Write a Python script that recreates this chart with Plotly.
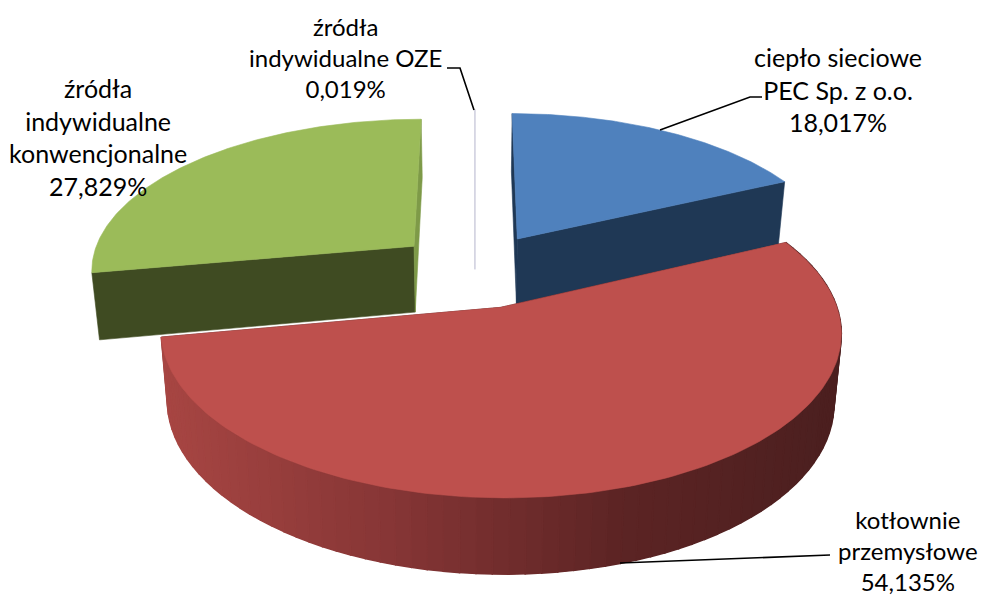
import numpy as np
import plotly.graph_objects as go

# --- data ---
categories = ["ciepło sieciowe PEC Sp. z o.o.", "kotłownie przemysłowe",
              "źródła indywidualne konwencjonalne", "źródła indywidualne OZE"]
values = [18.017, 54.135, 27.829, 0.019]
value_labels = ["18,017%", "54,135%", "27,829%", "0,019%"]
label_lines = [["ciepło sieciowe", "PEC Sp. z o.o."], ["kotłownie", "przemysłowe"],
               ["źródła", "indywidualne", "konwencjonalne"], ["źródła", "indywidualne OZE"]]
top_colors = ["#4F81BD", "#BE504D", "#9BBB59", "#8064A2"]
start_face_colors = ["#1F3855", "#4B1F1F", "#3F4B22", "#B4B4CC"]
end_face_colors = ["#1F3855", "#4B1F1F", "#7E9A48", "#B4B4CC"]
label_pos = [(838, 89), (908, 550), (98, 137), (345, 57)]
label_sizes = [25, 24, 25, 24]
leaders = [[(762, 97), (750, 97), (660, 130)],
           [(830, 555), (620, 563)],
           [],
           [(447, 68), (460, 68), (474, 110)]]

# --- projection of the 3D pie onto the page (pixel-sized axes) ---
CX, CY, AX, BY, D, EXPLODE, BOTTOM_X = 475, 270, 325, 151.5, 7.0, 0.25, 0.98


def top_pt(X, Y):
    s = D / (D + Y)
    return CX + AX * X * s, CY - BY * Y * s


def bot_pt(X, Y):
    x, y = top_pt(X, Y)
    return CX + (x - CX) * BOTTOM_X, y + 67 - 7.5 * Y


fig = go.Figure()


def poly(xs, ys, color, w=0.6):
    fig.add_trace(go.Scatter(x=xs, y=ys, mode="lines", fill="toself", fillcolor=color,
                             line=dict(color=color, width=w), hoverinfo="skip", showlegend=False))


def wall_color(x):
    stops_x = [160, 400, 620, 840]
    r = np.interp(x, stops_x, [168, 133, 92, 75])
    g = np.interp(x, stops_x, [70, 53, 36, 31])
    b = np.interp(x, stops_x, [67, 53, 36, 31])
    return f"rgb({r:.0f},{g:.0f},{b:.0f})"


total = sum(values)
edges = np.cumsum([0] + values) / total * 360.0
geo = []
for i in range(len(values)):
    a0, a1 = np.radians(edges[i]), np.radians(edges[i + 1])
    mid = (a0 + a1) / 2
    geo.append((a0, a1, EXPLODE * np.sin(mid), EXPLODE * np.cos(mid)))


def draw_slice(i):
    a0, a1, ox, oy = geo[i]
    t = np.linspace(a0, a1, 160)
    X, Y = ox + np.sin(t), oy + np.cos(t)
    for ang, col in ((a0, start_face_colors[i]), (a1, end_face_colors[i])):
        ex, ey = ox + np.sin(ang), oy + np.cos(ang)
        p = [top_pt(ox, oy), top_pt(ex, ey), bot_pt(ex, ey), bot_pt(ox, oy), top_pt(ox, oy)]
        poly([q[0] for q in p], [q[1] for q in p], col)
    tx, ty = top_pt(X, Y)
    if i == 1:
        # curved outer wall, in narrow shaded strips over a solid base
        bx, by = bot_pt(X, Y)
        poly(np.r_[tx, bx[::-1], tx[0]], np.r_[ty, by[::-1], ty[0]], wall_color(500), 0)
        n = 80
        b = np.linspace(a0, a1, n + 1)
        for k in range(n):
            tt = np.linspace(b[k], b[k + 1], 3)
            xx, yy = ox + np.sin(tt), oy + np.cos(tt)
            sx, sy = top_pt(xx, yy)
            ux, uy = bot_pt(xx, yy)
            px = np.r_[sx, ux[::-1], sx[0]]
            py = np.r_[sy, uy[::-1], sy[0]]
            poly(px, py, wall_color(px.mean()), 1.5)
    ax, ay = top_pt(ox, oy)
    poly(np.r_[ax, tx, ax], np.r_[ay, ty, ay], top_colors[i])


draw_slice(0)
draw_slice(2)

# almost invisible sliver
a0, a1, ox, oy = geo[3]
ex, ey = top_pt(ox + np.sin(a1), oy + np.cos(a1))
ax, ay = top_pt(ox, oy)
fig.add_trace(go.Scatter(x=[ex, ax, ax], y=[ey, ay, ay + 36], mode="lines",
                         line=dict(color=end_face_colors[3], width=1), hoverinfo="skip", showlegend=False))

draw_slice(1)

for pts in leaders:
    if pts:
        fig.add_trace(go.Scatter(x=[p[0] for p in pts], y=[p[1] for p in pts], mode="lines",
                                 line=dict(color="#000000", width=1.6), hoverinfo="skip", showlegend=False))

for lines, val, (lx, ly), fs in zip(label_lines, value_labels, label_pos, label_sizes):
    fig.add_annotation(x=lx, y=ly, xref="x", yref="y", text="<br>".join(lines + [val]),
                       showarrow=False, align="center", xanchor="center", yanchor="middle",
                       font=dict(family="Lato, Carlito, sans-serif", size=fs, color="#000000"))

fig.update_layout(width=985, height=597, margin=dict(l=0, r=0, t=0, b=0),
                  paper_bgcolor="white", plot_bgcolor="white", showlegend=False,
                  xaxis=dict(range=[0, 985], visible=False, fixedrange=True),
                  yaxis=dict(range=[597, 0], visible=False, fixedrange=True))
fig.write_html("out.html", config=dict(displayModeBar=False),
               post_script="document.body.style.margin='0';document.body.style.overflow='hidden';")
